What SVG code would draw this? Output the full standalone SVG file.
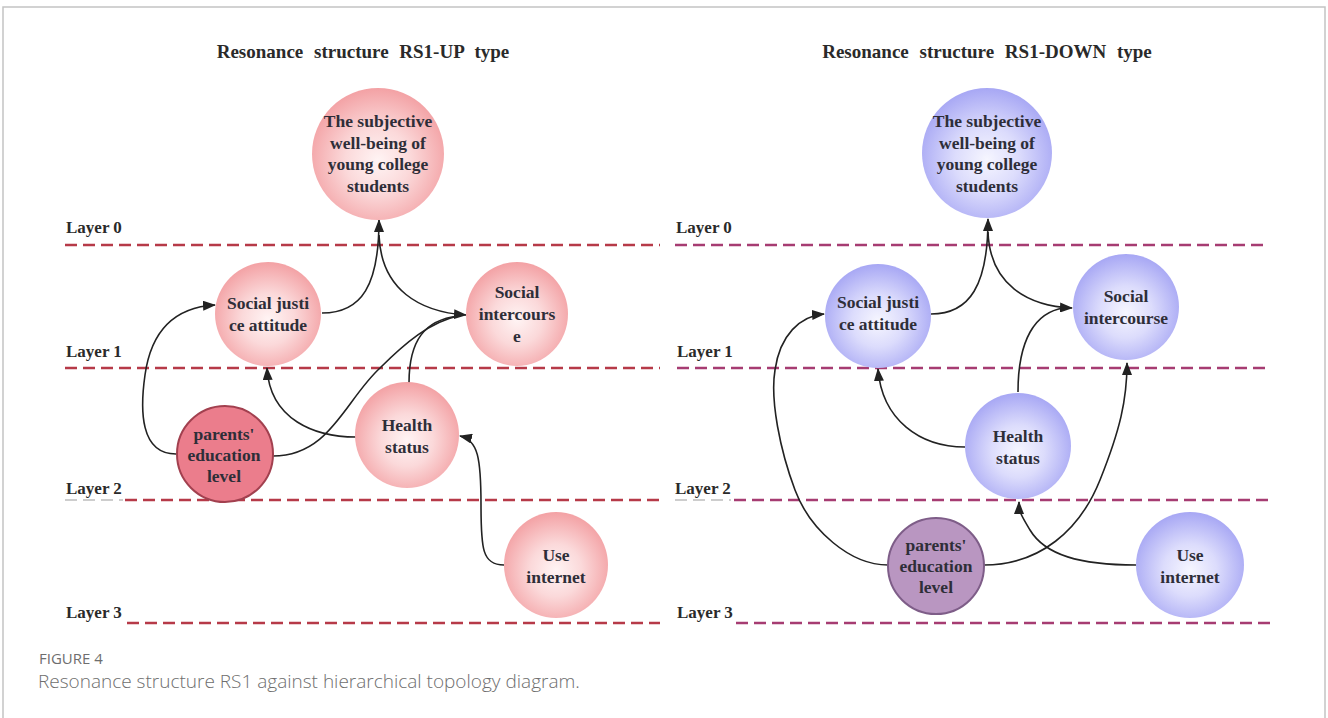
<svg xmlns="http://www.w3.org/2000/svg" width="1328" height="718" viewBox="0 0 1328 718">
<defs>
<radialGradient id="gPink" cx="50%" cy="55%" r="55%">
<stop offset="0" stop-color="#fff4f4"/>
<stop offset="0.45" stop-color="#fbd9da"/>
<stop offset="1" stop-color="#f3a1a4"/>
</radialGradient>
<radialGradient id="gBlue" cx="50%" cy="55%" r="55%">
<stop offset="0" stop-color="#f6f6ff"/>
<stop offset="0.45" stop-color="#dcdcfc"/>
<stop offset="1" stop-color="#a7a7f4"/>
</radialGradient>
<marker id="arr" viewBox="0 0 13 10" refX="12" refY="5" markerWidth="13" markerHeight="10" markerUnits="userSpaceOnUse" orient="auto">
<path d="M0,0 L13,5 L0,10 Z" fill="#222"/>
</marker>
<style>
.title{font-family:"Liberation Serif","Times New Roman",serif;font-weight:bold;font-size:19px;fill:#2a2a2a;text-anchor:middle;word-spacing:6px}
.layer{font-family:"Liberation Serif","Times New Roman",serif;font-weight:bold;font-size:17px;fill:#2a2a2a}
.nt{font-family:"Liberation Serif","Times New Roman",serif;font-weight:bold;font-size:17.5px;fill:#2e2e38;text-anchor:middle}
.dl{fill:none;stroke:#b63a48;stroke-width:2.5;stroke-dasharray:12 6}
.dr{fill:none;stroke:#a63c72;stroke-width:2.5;stroke-dasharray:12 6}
.dg{fill:none;stroke:#bdbdbd;stroke-width:1.5;stroke-dasharray:12 6}
.pk{fill:url(#gPink)}
.bl{fill:url(#gBlue)}
.c{fill:none;stroke:#222;stroke-width:1.6}
.ca{fill:none;stroke:#222;stroke-width:1.6;marker-end:url(#arr)}
.cap1{font-family:"Open Sans","Noto Sans",sans-serif;font-size:15px;fill:#6e6e6e}
.cap2{font-family:"Open Sans","Noto Sans",sans-serif;font-weight:300;font-size:19px;fill:#6e6e6e}
</style>
</defs>
<rect width="1328" height="718" fill="#fff"/>
<path d="M3,718 V7 H1325 V718" fill="none" stroke="#c4c4c4" stroke-width="1.5"/>

<g id="titles">
<text class="title" x="363" y="58">Resonance structure RS1-UP type</text>
<text class="title" x="987" y="58">Resonance structure RS1-DOWN type</text>
</g>

<g id="layers">
<text class="layer" x="66" y="233">Layer 0</text>
<path class="dl" d="M65,245 H660"/>
<text class="layer" x="66" y="357">Layer 1</text>
<path class="dl" d="M65,368 H660"/>
<text class="layer" x="66" y="494">Layer 2</text>
<path class="dg" d="M65,500 H123"/>
<path class="dl" d="M125,500 H660"/>
<text class="layer" x="66" y="618">Layer 3</text>
<path class="dl" d="M127,623 H660"/>

<text class="layer" x="676" y="233">Layer 0</text>
<path class="dr" d="M675,245 H1268"/>
<text class="layer" x="677" y="357">Layer 1</text>
<path class="dr" d="M677,368 H1268"/>
<text class="layer" x="675" y="494">Layer 2</text>
<path class="dg" d="M675,500 H731"/>
<path class="dr" d="M734,500 H1268"/>
<text class="layer" x="677" y="618">Layer 3</text>
<path class="dr" d="M736,623 H1270"/>
</g>

<g id="connectors">
<path class="ca" d="M322,313 C362,313 379,285 379,220"/>
<path class="ca" d="M379,235 C381,290 420,312 466,315"/>
<path class="c" d="M273,456 C330,456 345,400 380,368 C405,343 430,322 458,316"/>
<path class="c" d="M409,383 C409,340 425,320 458,316"/>
<path class="ca" d="M356,437 C315,437 270,420 267,368"/>
<path class="ca" d="M176,454 C140,454 140,410 145,375 C152,325 180,307 215,305"/>
<path class="ca" d="M504,565 C482,565 481,548 481,505 C481,458 478,440 460,436"/>

<path class="ca" d="M931,314 C970,314 988,285 988,219"/>
<path class="ca" d="M988,232 C990,285 1028,306 1072,308"/>
<path class="c" d="M1018,392 C1018,340 1035,312 1064,308"/>
<path class="ca" d="M965,447 C920,447 882,420 878,369"/>
<path class="ca" d="M888,565 C850,565 810,530 795,490 C780,450 770,400 775,370 C780,335 800,316 824,314"/>
<path class="ca" d="M984,565 C1040,565 1080,530 1100,480 C1120,430 1127,400 1127,363"/>
<path class="ca" d="M1136,565 C1080,565 1045,555 1030,530 C1021,515 1019,512 1019,502"/>
</g>

<g id="n-top-l">
<circle class="pk" cx="378" cy="154" r="66"/>
<text class="nt" x="378" y="127">The subjective</text>
<text class="nt" x="378" y="148.5">well-being of</text>
<text class="nt" x="378" y="170">young college</text>
<text class="nt" x="378" y="191.5">students</text>
</g>
<g id="n-sj-l">
<ellipse class="pk" cx="268" cy="314" rx="53" ry="52"/>
<text class="nt" x="268" y="309">Social justi</text>
<text class="nt" x="268" y="331">ce attitude</text>
</g>
<g id="n-si-l">
<ellipse class="pk" cx="517" cy="314" rx="51" ry="52"/>
<text class="nt" x="517" y="298">Social</text>
<text class="nt" x="517" y="320">intercours</text>
<text class="nt" x="517" y="342">e</text>
</g>
<g id="n-hs-l">
<ellipse class="pk" cx="407" cy="435" rx="52" ry="53"/>
<text class="nt" x="407" y="431">Health</text>
<text class="nt" x="407" y="453">status</text>
</g>
<g id="n-pe-l">
<circle cx="225" cy="454" r="48" fill="#eb7d8c" stroke="#a2404f" stroke-width="2"/>
<text class="nt" x="224" y="440">parents'</text>
<text class="nt" x="224" y="461">education</text>
<text class="nt" x="224" y="482">level</text>
</g>
<g id="n-ui-l">
<ellipse class="pk" cx="556" cy="565" rx="52" ry="53"/>
<text class="nt" x="556" y="561">Use</text>
<text class="nt" x="556" y="583">internet</text>
</g>

<g id="n-top-r">
<circle class="bl" cx="987" cy="153" r="65"/>
<text class="nt" x="987" y="127">The subjective</text>
<text class="nt" x="987" y="148.5">well-being of</text>
<text class="nt" x="987" y="170">young college</text>
<text class="nt" x="987" y="191.5">students</text>
</g>
<g id="n-sj-r">
<ellipse class="bl" cx="878" cy="316" rx="53" ry="52"/>
<text class="nt" x="878" y="308">Social justi</text>
<text class="nt" x="878" y="330">ce attitude</text>
</g>
<g id="n-si-r">
<ellipse class="bl" cx="1126" cy="307" rx="53" ry="53"/>
<text class="nt" x="1126" y="302">Social</text>
<text class="nt" x="1126" y="324">intercourse</text>
</g>
<g id="n-hs-r">
<ellipse class="bl" cx="1018" cy="446" rx="53" ry="53"/>
<text class="nt" x="1018" y="442">Health</text>
<text class="nt" x="1018" y="464">status</text>
</g>
<g id="n-pe-r">
<ellipse cx="936" cy="566" rx="48" ry="48" fill="#b996c1" stroke="#7e5d88" stroke-width="2"/>
<text class="nt" x="936" y="551">parents'</text>
<text class="nt" x="936" y="572">education</text>
<text class="nt" x="936" y="593">level</text>
</g>
<g id="n-ui-r">
<ellipse class="bl" cx="1190" cy="565" rx="54" ry="53"/>
<text class="nt" x="1190" y="561">Use</text>
<text class="nt" x="1190" y="583">internet</text>
</g>

<g id="caption">
<text class="cap1" x="39" y="664">FIGURE 4</text>
<text class="cap2" x="38" y="688">Resonance structure RS1 against hierarchical topology diagram.</text>
</g>
</svg>
